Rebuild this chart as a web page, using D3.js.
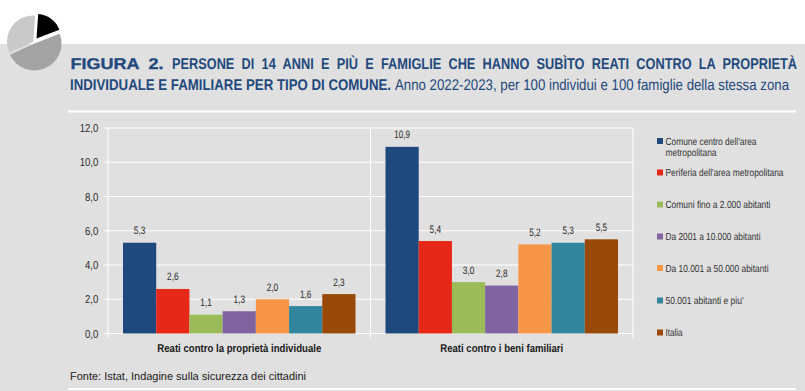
<!DOCTYPE html>
<html><head><meta charset="utf-8">
<style>html,body{margin:0;padding:0;background:#fff}svg{display:block;font-family:"Liberation Sans",Arial,sans-serif;text-rendering:geometricPrecision}</style>
<script src="https://cdn.jsdelivr.net/npm/d3@7/dist/d3.min.js"></script>
</head><body><svg id="c" width="805" height="391"></svg>
<script>
const groups=["Reati contro la proprietà individuale","Reati contro i beni familiari"];
const seriesNames=["Comune centro dell'area metropolitana","Periferia dell'area metropolitana","Comuni fino a 2.000 abitanti","Da 2001 a 10.000 abitanti","Da 10.001 a 50.000 abitanti","50.001 abitanti e piu'","Italia"];
const individuale=[5.3,2.6,1.1,1.3,2.0,1.6,2.3];
const familiari=[10.9,5.4,3.0,2.8,5.2,5.3,5.5];
const colors=["#1f497d","#e62818","#9bbb59","#8064a2","#f79646","#31859c","#984807"];
const yTicks=[0,2,4,6,8,10,12];
const pieValues=[18,49,33];
const pieColors=["#000000","#a3a3a3","#c9c9c9"];

const svg=d3.select("#c"),bg="#e0e0e0",txt="#2b2b2b",blue="#1f497d";
svg.append("rect").attr("x",0).attr("y",44).attr("width",805).attr("height",347).attr("fill",bg);
[111.5,389].forEach(y=>svg.append("line").attr("x1",68).attr("x2",796).attr("y1",y).attr("y2",y).attr("stroke","#fff").attr("stroke-width",1.8));

// pie icon
const pieGen=d3.pie().sort(null).startAngle(0.07).endAngle(0.07+2*Math.PI);
const arc=d3.arc().innerRadius(0);
const pieG=svg.append("g").attr("transform","translate(34,43)");
pieGen(pieValues).forEach((d,i)=>{
  const off=i===0?[2.5,-4.5]:i===1?[0.5,0.5]:[-0.7,-1.2];
  pieG.append("path").attr("d",arc.outerRadius(i===0?24.5:i===1?27:26.3)(d)).attr("fill",pieColors[i]).attr("transform",`translate(${off})`);
});

// text placed at a measured width: the source font is narrower than Liberation Sans
function fit(parent,s,x,y,width,size,opt){
  opt=opt||{};
  const el=parent.append("text").attr("font-size",size).attr("font-weight",opt.weight||"normal").attr("fill",opt.fill||txt).text(s);
  if(opt.ws) el.attr("word-spacing",opt.ws);
  if(opt.stroke) el.attr("stroke",opt.fill||txt).attr("stroke-width",opt.stroke);
  const natural=el.node().getComputedTextLength();
  const k=width/natural;
  const x0pos=opt.anchor==="middle"?x-width/2:opt.anchor==="end"?x-width:x;
  el.attr("transform",`translate(${x0pos},${y}) scale(${k},1)`);
  return el;
}
fit(svg,"FIGURA 2.",70.5,69,93,15.5,{weight:"bold",fill:blue,ws:4,stroke:0.35});
fit(svg,"PERSONE DI 14 ANNI E PIÙ E FAMIGLIE CHE HANNO SUBÌTO REATI CONTRO LA PROPRIETÀ",172,69,625,15.5,{weight:"bold",fill:blue,ws:4.5});
fit(svg,"INDIVIDUALE E FAMILIARE PER TIPO DI COMUNE.",70,90,321,15.5,{weight:"bold",fill:blue});
fit(svg,"Anno 2022-2023, per 100 individui e 100 famiglie della stessa zona",395,90,394,15.5,{fill:blue});

// chart
const plotLeft=108,plotRight=633,plotTop=128,plotBottom=333.5;
const y=d3.scaleLinear().domain([0,12]).range([plotBottom,plotTop]);
const x0=d3.scaleBand().domain(groups).range([plotLeft,plotRight]).paddingInner(30/262.5).paddingOuter(15/262.5);
const x1=d3.scaleBand().domain(seriesNames).range([0,x0.bandwidth()]);
const grid=svg.append("g");
yTicks.forEach(v=>grid.append("line").attr("x1",plotLeft-4).attr("x2",plotRight).attr("y1",y(v)).attr("y2",y(v)).attr("stroke","#fff").attr("stroke-width",1.1));
[plotLeft,plotLeft+262.5,plotRight].forEach(x=>grid.append("line").attr("x1",x).attr("x2",x).attr("y1",plotTop).attr("y2",plotBottom+4).attr("stroke","#fff").attr("stroke-width",1.1));
const fmt=d=>d3.format(".1f")(d).replace(".",",");
const yAxis=d3.axisLeft(y).tickValues(yTicks).tickSize(0).tickPadding(0).tickFormat(fmt);
svg.append("g").attr("transform",`translate(98.3,0)`).call(yAxis).call(g=>g.select(".domain").remove())
  .selectAll("text").attr("font-family","Liberation Sans").attr("font-size",11.5).attr("fill",txt).attr("x",0).attr("transform","scale(0.83,1)");
const groupLabelW=[164,123];
[individuale,familiari].forEach((vals,gi)=>{
  const g=svg.append("g").attr("transform",`translate(${x0(groups[gi])},0)`);
  vals.forEach((v,i)=>{
    g.append("rect").attr("x",x1(seriesNames[i])).attr("y",y(v)).attr("width",x1.bandwidth()).attr("height",y(0)-y(v)).attr("fill",colors[i]);
    fit(g,fmt(v),x1(seriesNames[i])+x1.bandwidth()/2,y(v)-8.5,v>=10?15.5:11.5,10.8,{anchor:"middle"});
  });
  fit(svg,groups[gi],x0(groups[gi])+x0.bandwidth()/2,351.5,groupLabelW[gi],11.3,{anchor:"middle",weight:"bold",fill:"#1a1a1a"});
});

// legend
const legY=[141,172.5,204.5,236.5,268,300.5,332.5];
const legLen=[91,118,105,95,103,78,17];
seriesNames.forEach((n,i)=>{
  svg.append("rect").attr("x",657).attr("y",legY[i]-3).attr("width",6).attr("height",6).attr("fill",colors[i]);
  const lines=i===0?["Comune centro dell'area","metropolitana"]:[n];
  lines.forEach((l,j)=>fit(svg,l,665.5,legY[i]+3.5+j*11.3,j===1?51:legLen[i],10.3,{fill:"#333"}));
});
fit(svg,"Fonte: Istat, Indagine sulla sicurezza dei cittadini",70,380,236,11.3,{fill:"#1a1a1a"});
</script></body></html>
